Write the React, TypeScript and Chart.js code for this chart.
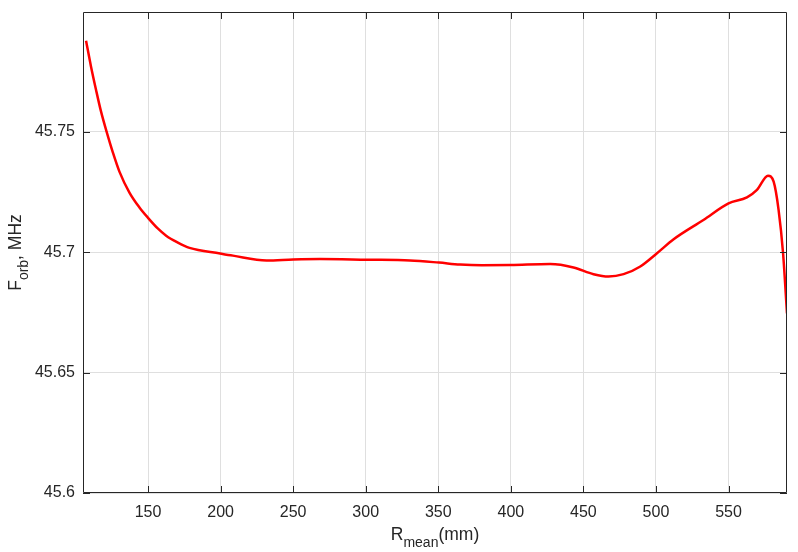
import React, { useEffect, useRef } from "react";
import { Chart, registerables } from "chart.js";

Chart.register(...registerables);

const rValues = [
  107.3, 110.7, 114.2, 117.6, 121.5, 125.7, 130.3, 137.2, 144.1, 150.3, 156.7,
  162.5, 170, 178.6, 199.7, 208.5, 231.7, 250, 268.5, 300.7, 330.5, 350.5, 365,
  380, 400, 427.1, 443.2, 457, 467.3, 477.7, 489.2, 500.7, 512.2, 532.7, 550,
  562.7, 569.6, 577.2, 581.1, 584.5, 587.6, 590.3,
];
const fValues = [
  45.7879, 45.7772, 45.7674, 45.7585, 45.75, 45.7416, 45.7335, 45.7248,
  45.7186, 45.7141, 45.7099, 45.7069, 45.7042, 45.7018, 45.6995, 45.6986,
  45.6966, 45.697, 45.6972, 45.6969, 45.6966, 45.6957, 45.6949, 45.6946,
  45.6947, 45.6951, 45.6937, 45.6909, 45.6899, 45.6909, 45.6941, 45.6996,
  45.7054, 45.7134, 45.7203, 45.7228, 45.7259, 45.7318, 45.7293, 45.7176,
  45.6995, 45.6746,
];
const xTickValues = [150, 200, 250, 300, 350, 400, 450, 500, 550];
const yTickValues = [45.6, 45.65, 45.7, 45.75];
const xRange = [105.2, 590.3];
const yRange = [45.6, 45.7998];

const FONT = "'Liberation Sans', Arial, Helvetica, sans-serif";
const AXIS_COLOR = "#262626";

const framePlugin = {
  id: "matlabFrame",
  afterDraw(chart: any) {
    const { ctx, chartArea } = chart;
    const { left, right, top, bottom } = chartArea;
    const xs = chart.scales.x;
    const ys = chart.scales.y;
    ctx.save();
    ctx.strokeStyle = AXIS_COLOR;
    ctx.lineWidth = 1;
    ctx.beginPath();
    ctx.rect(left + 0.5, top + 0.5, right - left - 1, bottom - top - 1);
    ctx.stroke();
    const tl = 7;
    ctx.beginPath();
    xTickValues.forEach((v) => {
      const px = Math.round(xs.getPixelForValue(v)) + 0.5;
      ctx.moveTo(px, bottom);
      ctx.lineTo(px, bottom - tl);
      ctx.moveTo(px, top);
      ctx.lineTo(px, top + tl);
    });
    yTickValues.forEach((v) => {
      const py = Math.round(ys.getPixelForValue(v)) + 0.5;
      ctx.moveTo(left, py);
      ctx.lineTo(left + tl, py);
      ctx.moveTo(right, py);
      ctx.lineTo(right - tl, py);
    });
    ctx.stroke();

    const mainFont = `17.5px ${FONT}`;
    const subFont = `14px ${FONT}`;
    ctx.fillStyle = AXIS_COLOR;
    ctx.textBaseline = "alphabetic";
    ctx.textAlign = "left";

    const drawSub = (parts: [string, boolean][], cx: number, baseY: number) => {
      let total = 0;
      parts.forEach(([t, sub]) => {
        ctx.font = sub ? subFont : mainFont;
        total += ctx.measureText(t).width;
      });
      let x = cx - total / 2;
      parts.forEach(([t, sub]) => {
        ctx.font = sub ? subFont : mainFont;
        ctx.fillText(t, x, sub ? baseY + 7 : baseY);
        x += ctx.measureText(t).width;
      });
    };

    drawSub(
      [
        ["R", false],
        ["mean", true],
        ["(mm)", false],
      ],
      (left + right) / 2,
      540
    );

    ctx.save();
    ctx.translate(21, (top + bottom) / 2);
    ctx.rotate(-Math.PI / 2);
    drawSub(
      [
        ["F", false],
        ["orb", true],
        [", MHz", false],
      ],
      0,
      0
    );
    ctx.restore();
    ctx.restore();
  },
};

export default function App() {
  const canvasRef = useRef<HTMLCanvasElement | null>(null);

  useEffect(() => {
    if (!canvasRef.current) return;
    const data = rValues.map((x, i) => ({ x, y: fValues[i] }));
    const chart = new Chart(canvasRef.current, {
      type: "line",
      data: {
        datasets: [
          {
            data,
            borderColor: "#ff0000",
            borderWidth: 2.5,
            pointRadius: 0,
            fill: false,
            cubicInterpolationMode: "monotone",
          },
        ],
      },
      options: {
        responsive: false,
        animation: false,
        devicePixelRatio: 1,
        layout: { padding: { left: 0, top: 12, right: 11, bottom: 0 } },
        plugins: {
          legend: { display: false },
          tooltip: { enabled: false },
        },
        scales: {
          x: {
            type: "linear",
            min: xRange[0],
            max: xRange[1],
            afterBuildTicks: (scale: any) => {
              scale.ticks = xTickValues.map((v) => ({ value: v }));
            },
            afterFit: (scale: any) => {
              scale.height = 59;
              scale.paddingLeft = 0;
              scale.paddingRight = 0;
            },
            grid: {
              color: "rgb(223,223,223)",
              lineWidth: 1,
              drawTicks: false,
            },
            border: { display: false },
            ticks: {
              padding: 10,
              color: AXIS_COLOR,
              font: { family: FONT, size: 16 },
              maxRotation: 0,
              autoSkip: false,
              callback: (v: any) => String(v),
            },
          },
          y: {
            type: "linear",
            min: yRange[0],
            max: yRange[1],
            afterBuildTicks: (scale: any) => {
              scale.ticks = yTickValues.map((v) => ({ value: v }));
            },
            afterFit: (scale: any) => {
              scale.width = 83;
              scale.paddingTop = 0;
              scale.paddingBottom = 0;
            },
            grid: {
              color: "rgb(223,223,223)",
              lineWidth: 1,
              drawTicks: false,
            },
            border: { display: false },
            ticks: {
              padding: 8,
              color: AXIS_COLOR,
              font: { family: FONT, size: 16 },
              autoSkip: false,
              callback: (v: any) => String(Number(Number(v).toFixed(4))),
            },
          },
        },
      },
      plugins: [framePlugin],
    });
    return () => chart.destroy();
  }, []);

  return (
    <div
      style={{
        position: "absolute",
        left: 0,
        top: 0,
        width: 798,
        height: 552,
        background: "#fff",
      }}
    >
      <canvas ref={canvasRef} width={798} height={552} />
    </div>
  );
}
